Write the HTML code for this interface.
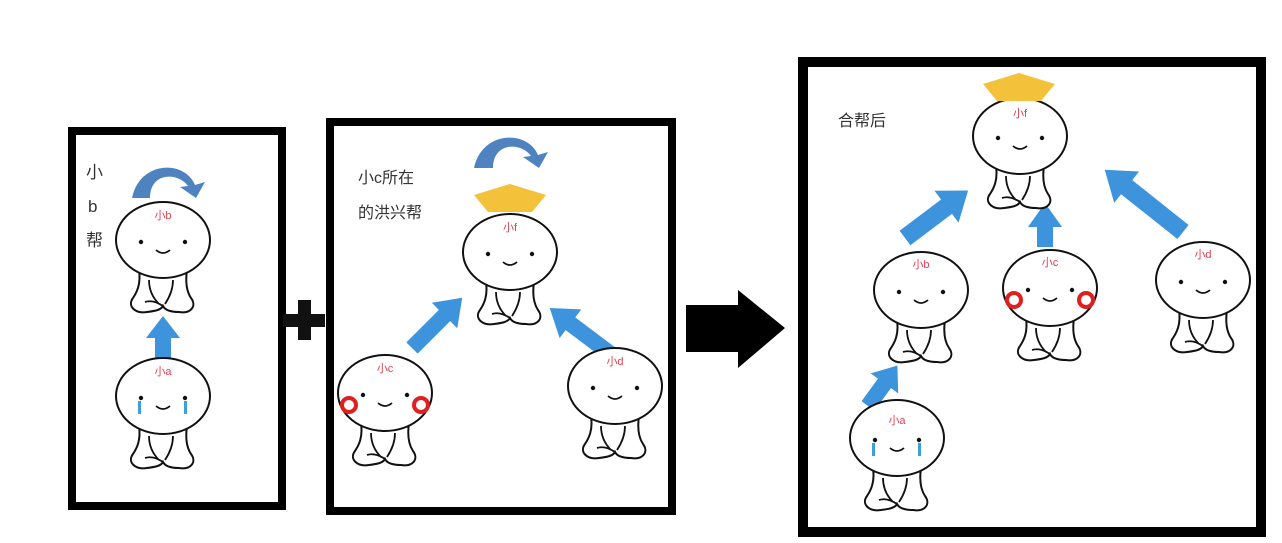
<!DOCTYPE html>
<html><head><meta charset="utf-8"><style>
html,body{margin:0;padding:0;background:#fff;}
svg{display:block}
text{font-family:"Liberation Sans","Noto Sans CJK SC",sans-serif;}
</style></head><body>
<svg width="1282" height="543" viewBox="0 0 1282 543" xmlns="http://www.w3.org/2000/svg">
<defs>
<g id="ch">
 <path d="M-24,30 C-22,44 -26,52 -30,58 C-36,66 -28,74 -16,72 C-8,71 -2,70 0,66 C2,70 8,72 16,72 C28,74 34,66 28,58 C24,52 22,44 24,30" fill="#fff" stroke="#111" stroke-width="2"/>
 <path d="M-14,40 C-14,50 -10,58 -4,64 M10,40 C10,50 6,58 2,64 M-18,62 C-12,60 -6,62 0,66" fill="none" stroke="#111" stroke-width="1.8"/>
 <ellipse cx="0" cy="0" rx="47" ry="38" fill="#fff" stroke="#111" stroke-width="2"/>
 <circle cx="-22" cy="2" r="2.2" fill="#111"/><circle cx="22" cy="2" r="2.2" fill="#111"/>
 <path d="M-7,10 Q0,16 7,10" fill="none" stroke="#111" stroke-width="1.8"/>
</g>
<g id="cheek"><circle cx="-36" cy="12" r="7" fill="none" stroke="#e02020" stroke-width="4"/><circle cx="36" cy="12" r="7" fill="none" stroke="#e02020" stroke-width="4"/></g>
<g id="tear"><rect x="-25" y="5" width="3" height="13" fill="#3aa0e0"/><rect x="21" y="5" width="3" height="13" fill="#3aa0e0"/></g>
<polygon id="crown" points="0,-15 36,-4 22,13 -22,13 -36,-4" fill="#f3c23a"/>
</defs>

<!-- boxes -->
<rect x="72" y="131" width="210" height="375" fill="none" stroke="#000" stroke-width="8"/>
<rect x="330" y="122" width="342" height="389" fill="none" stroke="#000" stroke-width="8"/>
<rect x="803" y="62" width="458" height="470" fill="none" stroke="#000" stroke-width="10"/>

<!-- plus and big arrow -->
<rect x="283" y="314" width="42" height="13" fill="#111"/>
<rect x="298" y="300" width="13" height="40" fill="#111"/>
<polygon points="686,305 738,305 738,290 785,328 738,368 738,352 686,352" fill="#000"/>

<!-- box1 -->
<text x="86" y="178" font-size="17" fill="#333">小</text>
<text x="88" y="212" font-size="17" fill="#333">b</text>
<text x="86" y="246" font-size="17" fill="#333">帮</text>
<path d="M132,198 C140,160 185,160 195,185 L205,182 L196,198 L180,187 L188,186 C178,172 150,172 150,198 Z" fill="#4f83c0"/>
<use href="#ch" x="163" y="240"/>
<text x="163" y="219" font-size="11" fill="#e04050" text-anchor="middle">小b</text>
<polygon points="155,362 171,362 171,338 180,338 163,316 146,338 155,338" fill="#3d94dc"/>
<use href="#ch" x="163" y="396"/><use href="#tear" x="163" y="396"/>
<text x="163" y="375" font-size="11" fill="#e04050" text-anchor="middle">小a</text>

<!-- box2 -->
<text x="358" y="183" font-size="16" fill="#333">小c所在</text>
<text x="358" y="218" font-size="16" fill="#333">的洪兴帮</text>
<path d="M474,168 C482,130 528,130 538,155 L548,152 L539,168 L523,157 L531,156 C521,142 493,142 493,168 Z" fill="#4f83c0"/>
<use href="#ch" x="510" y="252"/><use href="#crown" x="510" y="199"/>
<text x="510" y="231" font-size="11" fill="#e04050" text-anchor="middle">小f</text>
<g fill="#3d94dc">
<polygon transform="translate(412,348) rotate(-45)" points="0,-8 46,-8 46,-18 71,0 46,18 46,8 0,8"/>
<polygon transform="translate(612,355) rotate(-143)" points="0,-8 52,-8 52,-18 78,0 52,18 52,8 0,8"/>
<polygon transform="translate(905,238) rotate(-37)" points="0,-9 52,-9 52,-20 79,0 52,20 52,9 0,9"/>
<polygon transform="translate(1045,247) rotate(-90)" points="0,-8 20,-8 20,-17 44,0 20,17 20,8 0,8"/>
<polygon transform="translate(1183,232) rotate(-141.5)" points="0,-9 72,-9 72,-20 100,0 72,20 72,9 0,9"/>
<polygon transform="translate(868,406) rotate(-54)" points="0,-8 28,-8 28,-17 50,0 28,17 28,8 0,8"/>
</g>
<use href="#ch" x="385" y="393"/><use href="#cheek" x="385" y="393"/>
<text x="385" y="372" font-size="11" fill="#e04050" text-anchor="middle">小c</text>
<use href="#ch" x="615" y="386"/>
<text x="615" y="365" font-size="11" fill="#e04050" text-anchor="middle">小d</text>

<!-- box3 -->
<text x="838" y="126" font-size="16" fill="#333">合帮后</text>
<use href="#ch" x="1020" y="136"/><use href="#crown" x="1019" y="88"/>
<text x="1020" y="117" font-size="11" fill="#e04050" text-anchor="middle">小f</text>
<use href="#ch" x="921" y="290"/>
<text x="921" y="268" font-size="11" fill="#e04050" text-anchor="middle">小b</text>
<use href="#ch" x="1050" y="288"/><use href="#cheek" x="1050" y="288"/>
<text x="1050" y="266" font-size="11" fill="#e04050" text-anchor="middle">小c</text>
<use href="#ch" x="1203" y="280"/>
<text x="1203" y="258" font-size="11" fill="#e04050" text-anchor="middle">小d</text>
<use href="#ch" x="897" y="438"/><use href="#tear" x="897" y="438"/>
<text x="897" y="424" font-size="11" fill="#e04050" text-anchor="middle">小a</text>
</svg>
</body></html>
